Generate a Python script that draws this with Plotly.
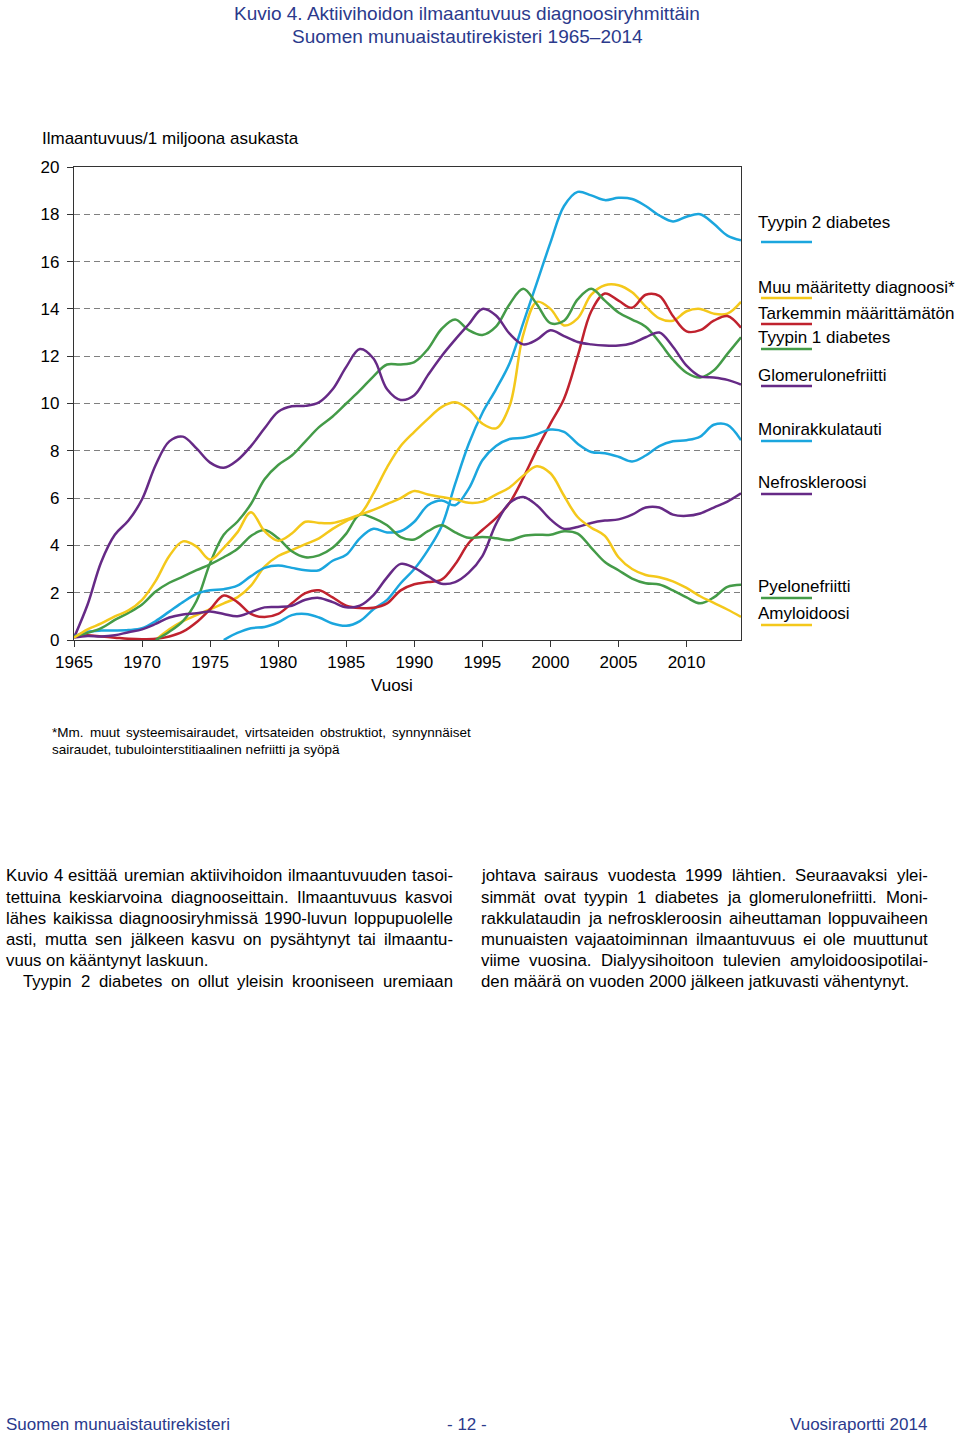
import plotly.graph_objects as go

# ---------------- DATA ----------------
years = list(range(1965, 2015))

tyypin2_diabetes = [None] * 11 + [
    0.0, 0.3, 0.5, 0.55, 0.75, 1.05, 1.1, 0.95, 0.7, 0.6,
    0.8, 1.3, 1.7, 2.4, 3.0, 3.8, 4.8, 6.6, 8.3, 9.6,
    10.6, 11.7, 13.4, 15.1, 16.8, 18.35, 18.95, 18.8, 18.6, 18.7,
    18.65, 18.35, 17.95, 17.7, 17.9, 18.0, 17.6, 17.1, 16.9]

muu_maaritetty = [None] * 6 + [
    0.0, 0.45, 0.8, 1.05, 1.3, 1.55, 1.8, 2.3, 3.1, 3.55,
    3.8, 4.05, 4.3, 4.7, 5.03, 5.3, 6.2, 7.3, 8.2, 8.8,
    9.35, 9.85, 10.05, 9.75, 9.15, 8.95, 9.9, 12.9, 14.3, 14.0,
    13.3, 13.6, 14.6, 15.0, 15.0, 14.7, 14.1, 13.6, 13.5, 13.9,
    14.0, 13.8, 13.8, 14.3]

tarkemmin_maarittamaton = [
    0.15, 0.2, 0.15, 0.1, 0.05, 0.03, 0.05, 0.15, 0.35, 0.75,
    1.3, 1.88, 1.6, 1.1, 0.97, 1.1, 1.55, 1.98, 2.1, 1.8,
    1.45, 1.35, 1.36, 1.55, 2.1, 2.36, 2.45, 2.55, 3.2, 4.1,
    4.65, 5.15, 5.8, 6.85, 8.05, 9.15, 10.2, 12.0, 13.9, 14.65,
    14.35, 14.05, 14.6, 14.55, 13.7, 13.05, 13.1, 13.5, 13.7, 13.2]

tyypin1_diabetes = [None] * 6 + [
    0.0, 0.35, 0.8, 1.65, 3.25, 4.45, 5.0, 5.75, 6.8, 7.4,
    7.8, 8.4, 9.0, 9.45, 10.0, 10.55, 11.15, 11.65, 11.65, 11.75,
    12.3, 13.15, 13.55, 13.1, 12.9, 13.25, 14.2, 14.85, 14.2, 13.4,
    13.5, 14.4, 14.85, 14.35, 13.85, 13.55, 13.25, 12.6, 11.85, 11.3,
    11.1, 11.4, 12.1, 12.8]

glomerulonefriitti = [
    0.1, 1.5, 3.3, 4.45, 5.05, 5.95, 7.4, 8.4, 8.6, 8.1,
    7.5, 7.28, 7.6, 8.2, 8.95, 9.65, 9.88, 9.9, 10.05, 10.6,
    11.55, 12.3, 11.9, 10.6, 10.15, 10.35, 11.2, 12.0, 12.7, 13.35,
    14.0, 13.72, 12.95, 12.5, 12.7, 13.1, 12.85, 12.6, 12.5, 12.45,
    12.45, 12.55, 12.8, 13.0, 12.4, 11.6, 11.15, 11.1, 11.0, 10.8]

monirakkulatauti = [
    0.15, 0.35, 0.4, 0.4, 0.42, 0.5, 0.8, 1.2, 1.6, 1.95,
    2.1, 2.15, 2.3, 2.7, 3.05, 3.15, 3.05, 2.95, 2.95, 3.35,
    3.6, 4.3, 4.7, 4.55, 4.6, 5.0, 5.7, 5.9, 5.7, 6.4,
    7.6, 8.2, 8.5, 8.55, 8.7, 8.9, 8.8, 8.3, 7.95, 7.9,
    7.75, 7.55, 7.8, 8.2, 8.4, 8.45, 8.6, 9.1, 9.1, 8.45]

nefroskleroosi = [
    0.1, 0.17, 0.15, 0.2, 0.33, 0.45, 0.68, 0.95, 1.08, 1.13,
    1.2, 1.1, 1.0, 1.18, 1.38, 1.4, 1.45, 1.7, 1.78, 1.6,
    1.38, 1.45, 1.9, 2.65, 3.22, 3.05, 2.7, 2.38, 2.45, 2.85,
    3.55, 4.9, 5.8, 6.05, 5.7, 5.1, 4.7, 4.78, 4.95, 5.05,
    5.1, 5.3, 5.6, 5.6, 5.3, 5.25, 5.35, 5.6, 5.85, 6.2]

pyelonefriitti = [
    0.15, 0.3, 0.5, 0.85, 1.15, 1.5, 2.05, 2.42, 2.68, 2.95,
    3.2, 3.5, 3.85, 4.4, 4.65, 4.3, 3.75, 3.5, 3.58, 3.9,
    4.5, 5.3, 5.15, 4.85, 4.35, 4.25, 4.6, 4.85, 4.55, 4.32,
    4.35, 4.3, 4.22, 4.4, 4.45, 4.45, 4.6, 4.5, 3.9, 3.3,
    2.95, 2.6, 2.4, 2.35, 2.1, 1.8, 1.55, 1.8, 2.25, 2.34]

amyloidoosi = [
    0.1, 0.45, 0.7, 1.0, 1.25, 1.7, 2.5, 3.55, 4.17, 3.95,
    3.4, 3.9, 4.55, 5.4, 4.6, 4.2, 4.5, 5.0, 4.95, 4.95,
    5.1, 5.3, 5.5, 5.75, 6.0, 6.3, 6.15, 6.05, 5.95, 5.8,
    5.85, 6.15, 6.45, 6.95, 7.35, 7.05, 6.1, 5.2, 4.75, 4.4,
    3.5, 3.0, 2.75, 2.65, 2.48, 2.2, 1.85, 1.57, 1.29, 0.98]

series_names = ["Tyypin 2 diabetes", "Muu määritetty diagnoosi*", "Tarkemmin määrittämätön",
                "Tyypin 1 diabetes", "Glomerulonefriitti", "Monirakkulatauti",
                "Nefroskleroosi", "Pyelonefriitti", "Amyloidoosi"]
series_values = [tyypin2_diabetes, muu_maaritetty, tarkemmin_maarittamaton, tyypin1_diabetes,
                 glomerulonefriitti, monirakkulatauti, nefroskleroosi, pyelonefriitti, amyloidoosi]

x_ticks = [1965, 1970, 1975, 1980, 1985, 1990, 1995, 2000, 2005, 2010]
y_ticks = [0, 2, 4, 6, 8, 10, 12, 14, 16, 18, 20]

# ---------------- STYLE ----------------
BLUE = "#1BA6DE"
YELLOW = "#F4C81B"
RED = "#C0222E"
GREEN = "#449B48"
PURPLE = "#662A86"
TITLE_BLUE = "#2B3A8C"
series_colors = [BLUE, YELLOW, RED, GREEN, PURPLE, BLUE, PURPLE, GREEN, YELLOW]
legend_text_y = [222, 287, 313, 337, 375, 429, 482, 586, 613]
legend_line_y = [242, 298, 324, 349, 386, 441, 494, 598, 625]

FONT = "Liberation Sans, Arial, sans-serif"
W, H = 960, 1435
L, R, T, B = 74, 741, 167, 640


def fx(px):
    return (px - L) / (R - L)


def fy(py):
    return (B - py) / (B - T)


# Arial / Liberation Sans advance widths (per 1000 em)
AW = {' ': 278, 'a': 556, 'b': 556, 'c': 500, 'd': 556, 'e': 556, 'f': 278, 'g': 556, 'h': 556,
      'i': 222, 'j': 222, 'k': 500, 'l': 222, 'm': 833, 'n': 556, 'o': 556, 'p': 556, 'q': 556,
      'r': 333, 's': 500, 't': 278, 'u': 556, 'v': 500, 'w': 722, 'x': 500, 'y': 500, 'z': 500,
      'ä': 556, 'ö': 556, 'å': 556,
      'A': 667, 'B': 667, 'C': 722, 'D': 722, 'E': 667, 'F': 611, 'G': 778, 'H': 722, 'I': 278,
      'J': 500, 'K': 667, 'L': 556, 'M': 833, 'N': 722, 'O': 778, 'P': 667, 'Q': 778, 'R': 722,
      'S': 667, 'T': 611, 'U': 722, 'V': 667, 'W': 944, 'X': 667, 'Y': 667, 'Z': 611,
      '.': 278, ',': 278, '-': 333, '*': 389, ':': 278, '/': 278, '–': 556}


def tw(s, size):
    return sum(AW.get(c, 556) for c in s) * size / 1000.0


annotations = []
shapes = []


def add_text(text, px, py, size, color="black", anchor="left"):
    annotations.append(dict(text=text, x=fx(px), y=fy(py), xref="paper", yref="paper",
                            xanchor=anchor, yanchor="middle", showarrow=False, borderpad=0,
                            font=dict(family=FONT, size=size, color=color)))


def add_line(text, left, right, py, size, justify=True):
    words = text.split()
    if not justify or len(words) < 2:
        add_text(text, left, py, size)
        return
    total = sum(tw(w, size) for w in words)
    gap = (right - left - total) / (len(words) - 1)
    x = left
    for w in words:
        add_text(w, x, py, size)
        x += tw(w, size) + gap


# Titles
add_text("Kuvio 4. Aktiivihoidon ilmaantuvuus diagnoosiryhmittäin", 467, 13, 19, TITLE_BLUE, "center")
add_text("Suomen munuaistautirekisteri 1965–2014", 467, 36, 19, TITLE_BLUE, "center")

# Axis titles
add_text("Ilmaantuvuus/1 miljoona asukasta", 41, 138, 17)
add_text("Vuosi", 392, 685, 17, "black", "center")

# Legend
for name, col, ty, ly in zip(series_names, series_colors, legend_text_y, legend_line_y):
    add_text(name, 757, ty, 17)
    shapes.append(dict(type="line", xref="paper", yref="paper", x0=fx(761), x1=fx(812),
                       y0=fy(ly), y1=fy(ly), line=dict(color=col, width=2.5)))

# Footnote
add_line("*Mm. muut systeemisairaudet, virtsateiden obstruktiot, synnynnäiset", 51, 470, 732, 13.5)
add_line("sairaudet, tubulointerstitiaalinen nefriitti ja syöpä", 51, 470, 749, 13.5, justify=False)

# Body text
BODY = 16.8
left_col = [
    ("Kuvio 4 esittää uremian aktiivihoidon ilmaantuvuuden tasoi-", 5, True),
    ("tettuina keskiarvoina diagnooseittain. Ilmaantuvuus kasvoi", 5, True),
    ("lähes kaikissa diagnoosiryhmissä 1990-luvun loppupuolelle", 5, True),
    ("asti, mutta sen jälkeen kasvu on pysähtynyt tai ilmaantu-", 5, True),
    ("vuus on kääntynyt laskuun.", 5, False),
    ("Tyypin 2 diabetes on ollut yleisin krooniseen uremiaan", 22, True),
]
right_col = [
    ("johtava sairaus vuodesta 1999 lähtien. Seuraavaksi ylei-", True),
    ("simmät ovat tyypin 1 diabetes ja glomerulonefriitti. Moni-", True),
    ("rakkulataudin ja nefroskleroosin aiheuttaman loppuvaiheen", True),
    ("munuaisten vajaatoiminnan ilmaantuvuus ei ole muuttunut", True),
    ("viime vuosina. Dialyysihoitoon tulevien amyloidoosipotilai-", True),
    ("den määrä on vuoden 2000 jälkeen jatkuvasti vähentynyt.", False),
]
line_y = [876, 897, 918, 939, 960, 981]
for (txt, lx, j), yy in zip(left_col, line_y):
    add_line(txt, lx, 452, yy, BODY, j)
for (txt, j), yy in zip(right_col, line_y):
    add_line(txt, 480, 927, yy, BODY, j)

# Footer
add_text("Suomen munuaistautirekisteri", 5, 1424, 17, TITLE_BLUE, "left")
add_text("- 12 -", 467, 1424, 17, TITLE_BLUE, "center")
add_text("Vuosiraportti 2014", 928, 1424, 17, TITLE_BLUE, "right")

# ---------------- FIGURE ----------------
fig = go.Figure()
for name, vals, col in zip(series_names, series_values, series_colors):
    fig.add_trace(go.Scatter(x=years, y=vals, mode="lines", name=name,
                             line=dict(color=col, width=2.5, shape="spline", smoothing=1.0),
                             connectgaps=False, hoverinfo="skip"))

fig.update_layout(
    width=W, height=H,
    margin=dict(l=L, r=W - R, t=T, b=H - B),
    paper_bgcolor="white", plot_bgcolor="white",
    showlegend=False,
    font=dict(family=FONT, size=17, color="black"),
    annotations=annotations, shapes=shapes,
)
fig.update_xaxes(range=[1965, 2014], tickvals=x_ticks, ticktext=[str(v) for v in x_ticks],
                 ticks="outside", ticklen=6, tickwidth=1, tickcolor="#333333",
                 showline=True, linecolor="#333333", linewidth=1.2, mirror=True,
                 showgrid=False, zeroline=False, tickfont=dict(family=FONT, size=17, color="black"))
fig.update_yaxes(range=[0, 20], tickvals=y_ticks, ticktext=[str(v) for v in y_ticks],
                 ticks="outside", ticklen=6, tickwidth=1, tickcolor="#333333",
                 showline=True, linecolor="#333333", linewidth=1.2, mirror=True,
                 showgrid=True, gridcolor="#7f7f7f", gridwidth=1, griddash="6px,4px",
                 zeroline=False, tickfont=dict(family=FONT, size=17, color="black"),
                 ticklabelstandoff=4)

fig.write_html("out.html", config={"displayModeBar": False},
               post_script="document.body.style.margin='0px';document.body.style.overflow='hidden';")
